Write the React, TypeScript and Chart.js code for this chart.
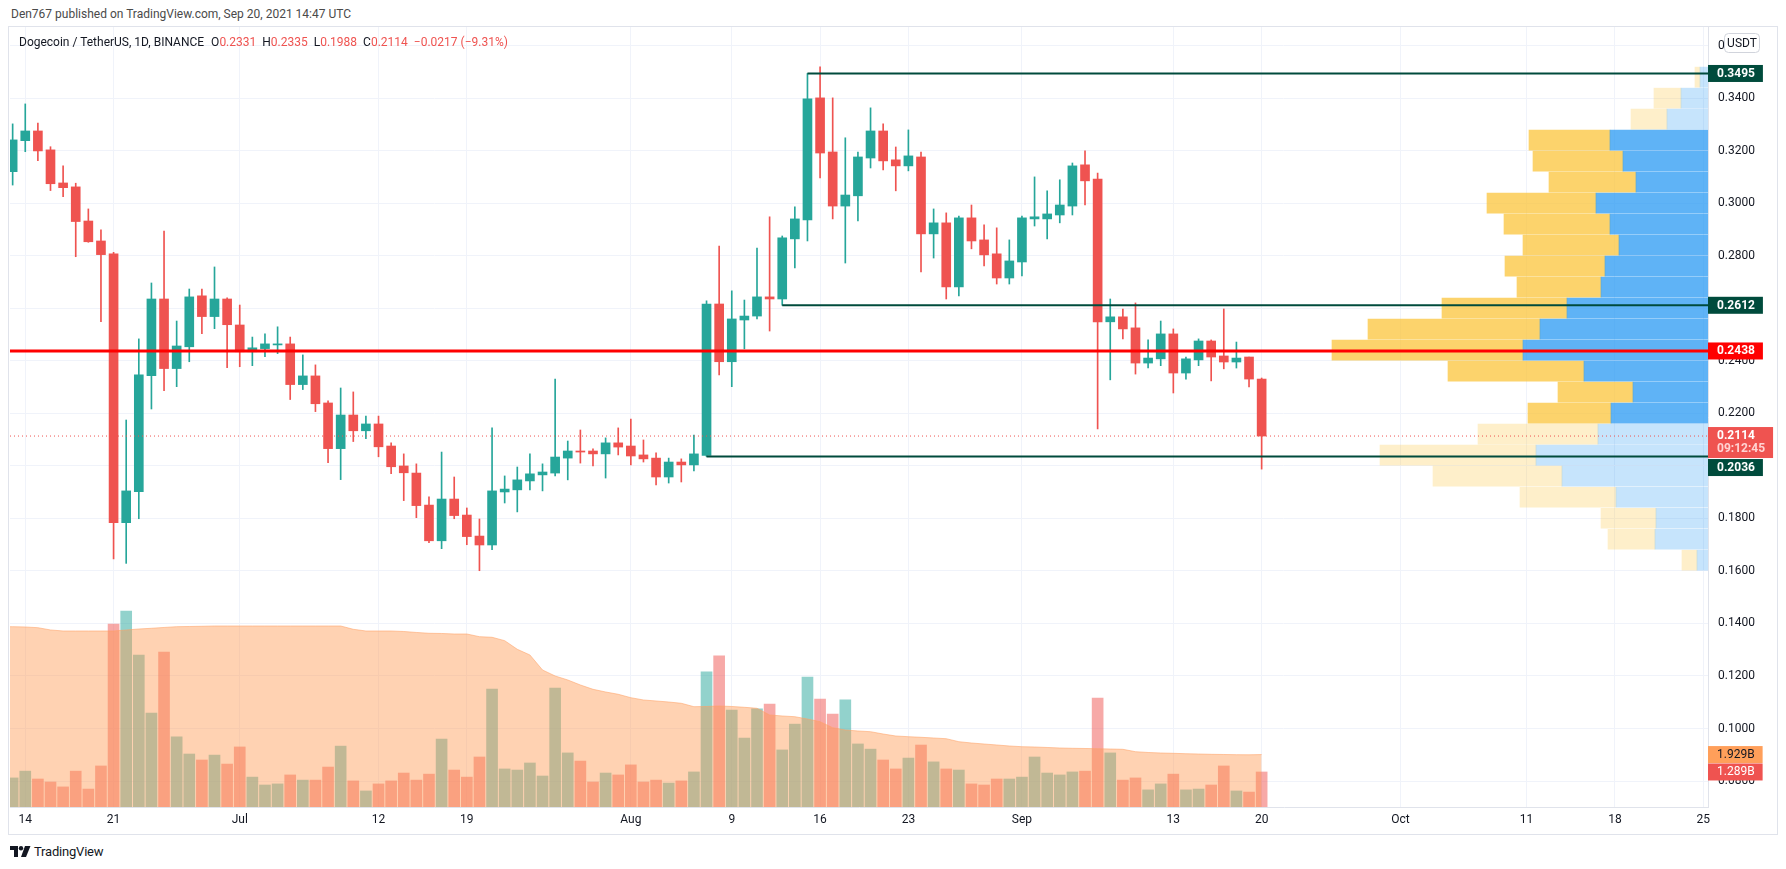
import React, { useEffect, useRef } from "react";
import { Chart, registerables } from "chart.js";

Chart.register(...registerables);

const FONT = "Roboto, 'Liberation Sans', Arial, sans-serif";

// ---------- categories ----------
const DATES = [
  "Jun 13","Jun 14","Jun 15","Jun 16","Jun 17","Jun 18","Jun 19","Jun 20","Jun 21","Jun 22",
  "Jun 23","Jun 24","Jun 25","Jun 26","Jun 27","Jun 28","Jun 29","Jun 30","Jul 1","Jul 2",
  "Jul 3","Jul 4","Jul 5","Jul 6","Jul 7","Jul 8","Jul 9","Jul 10","Jul 11","Jul 12",
  "Jul 13","Jul 14","Jul 15","Jul 16","Jul 17","Jul 18","Jul 19","Jul 20","Jul 21","Jul 22",
  "Jul 23","Jul 24","Jul 25","Jul 26","Jul 27","Jul 28","Jul 29","Jul 30","Jul 31","Aug 1",
  "Aug 2","Aug 3","Aug 4","Aug 5","Aug 6","Aug 7","Aug 8","Aug 9","Aug 10","Aug 11",
  "Aug 12","Aug 13","Aug 14","Aug 15","Aug 16","Aug 17","Aug 18","Aug 19","Aug 20","Aug 21",
  "Aug 22","Aug 23","Aug 24","Aug 25","Aug 26","Aug 27","Aug 28","Aug 29","Aug 30","Aug 31",
  "Sep 1","Sep 2","Sep 3","Sep 4","Sep 5","Sep 6","Sep 7","Sep 8","Sep 9","Sep 10",
  "Sep 11","Sep 12","Sep 13","Sep 14","Sep 15","Sep 16","Sep 17","Sep 18","Sep 19","Sep 20",
];

// ---------- OHLC (USDT) ----------
const OPEN = [
  0.3121,0.3239,0.3276,0.3204,0.3078,0.3063,0.2933,0.2857,0.2808,0.1784,
  0.1902,0.2344,0.2636,0.2371,0.2454,0.2648,0.2569,0.2636,0.2537,0.2435,
  0.2447,0.2461,0.2465,0.2310,0.2343,0.2240,0.2066,0.2194,0.2134,0.2160,
  0.2076,0.2000,0.1973,0.1851,0.1715,0.1874,0.1813,0.1733,0.1699,0.1901,
  0.1909,0.1943,0.1966,0.1973,0.2030,0.2057,0.2057,0.2046,0.2088,0.2076,
  0.2042,0.2030,0.1958,0.2015,0.2004,0.2040,0.2617,0.2397,0.2556,0.2571,
  0.2644,0.2636,0.2865,0.2937,0.3402,0.3196,0.2990,0.3029,0.3173,0.3276,
  0.3166,0.3143,0.3177,0.2884,0.2926,0.2682,0.2945,0.2861,0.2808,0.2716,
  0.2777,0.2941,0.2941,0.2956,0.2990,0.3147,0.3093,0.2549,0.2568,0.2526,
  0.2392,0.2408,0.2503,0.2354,0.2404,0.2476,0.2419,0.2396,0.2415,0.2331,
];
const HIGH = [
  0.3303,0.3379,0.3306,0.3216,0.3143,0.3077,0.2979,0.2899,0.2814,0.2175,
  0.2484,0.2697,0.2895,0.2552,0.2674,0.2674,0.2758,0.2640,0.2613,0.2491,
  0.2503,0.2530,0.2491,0.2423,0.2385,0.2248,0.2297,0.2282,0.2190,0.2190,
  0.2088,0.2046,0.2008,0.1882,0.2053,0.1958,0.1840,0.1798,0.2145,0.1962,
  0.1996,0.2046,0.2008,0.2331,0.2095,0.2137,0.2065,0.2107,0.2145,0.2179,
  0.2099,0.2050,0.2030,0.2027,0.2118,0.2629,0.2838,0.2667,0.2632,0.2830,
  0.2949,0.2876,0.2987,0.3495,0.3520,0.3402,0.3250,0.3196,0.3364,0.3303,
  0.3215,0.3280,0.3196,0.2979,0.2964,0.2952,0.2994,0.2918,0.2907,0.2861,
  0.2952,0.3101,0.3048,0.3090,0.3154,0.3200,0.3116,0.2636,0.2598,0.2621,
  0.2480,0.2552,0.2522,0.2415,0.2484,0.2480,0.2598,0.2472,0.2415,0.2335,
];
const LOW = [
  0.3070,0.3197,0.3163,0.3049,0.3026,0.2797,0.2852,0.2550,0.1646,0.1629,
  0.1799,0.2217,0.2287,0.2302,0.2397,0.2504,0.2523,0.2374,0.2378,0.2382,
  0.2416,0.2428,0.2253,0.2291,0.2207,0.2013,0.1948,0.2093,0.2104,0.2035,
  0.1971,0.1868,0.1803,0.1708,0.1685,0.1799,0.1700,0.1601,0.1681,0.1859,
  0.1825,0.1909,0.1905,0.1962,0.1947,0.2011,0.2000,0.1954,0.2042,0.2004,
  0.2015,0.1928,0.1935,0.1939,0.1981,0.2036,0.2347,0.2302,0.2446,0.2560,
  0.2514,0.2612,0.2754,0.2857,0.3097,0.2941,0.2773,0.2933,0.3135,0.3128,
  0.3048,0.3124,0.2739,0.2792,0.2636,0.2648,0.2827,0.2762,0.2693,0.2693,
  0.2724,0.2914,0.2865,0.2926,0.2956,0.2994,0.2141,0.2328,0.2484,0.2350,
  0.2373,0.2382,0.2278,0.2331,0.2382,0.2324,0.2370,0.2373,0.2301,0.1988,
];
const CLOSE = [
  0.3242,0.3276,0.3200,0.3075,0.3060,0.2931,0.2854,0.2805,0.1784,0.1905,
  0.2347,0.2636,0.2371,0.2457,0.2644,0.2569,0.2636,0.2538,0.2435,0.2450,
  0.2465,0.2465,0.2310,0.2343,0.2237,0.2066,0.2194,0.2134,0.2160,0.2073,
  0.1997,0.1974,0.1849,0.1715,0.1874,0.1811,0.1731,0.1699,0.1905,0.1912,
  0.1947,0.1970,0.1977,0.2034,0.2057,0.2053,0.2046,0.2088,0.2072,0.2038,
  0.2027,0.1958,0.2015,0.2004,0.2046,0.2617,0.2397,0.2560,0.2571,0.2644,
  0.2636,0.2869,0.2941,0.3398,0.3192,0.2990,0.3032,0.3177,0.3276,0.3162,
  0.3143,0.3181,0.2884,0.2926,0.2682,0.2945,0.2857,0.2804,0.2716,0.2781,
  0.2945,0.2949,0.2960,0.2994,0.3143,0.3086,0.2549,0.2568,0.2522,0.2392,
  0.2411,0.2503,0.2354,0.2408,0.2476,0.2415,0.2396,0.2411,0.2331,0.2114,
];

// ---------- volume (billions DOGE) ----------
const VOLUME = [
  1.07,1.32,1.03,0.92,0.74,1.32,0.66,1.51,
  6.73,7.21,5.59,3.46,5.70,2.58,1.95,1.73,1.91,1.58,
  2.21,1.10,0.81,0.85,1.18,0.99,0.99,1.47,2.24,0.96,
  0.59,0.85,0.96,1.25,0.99,1.21,2.50,1.36,1.10,1.84,
  4.34,1.40,1.36,1.62,1.14,4.38,1.99,1.69,0.92,1.25,1.18,
  1.55,0.92,0.99,0.88,0.96,1.29,4.97,5.56,3.57,2.54,
  3.61,3.79,2.10,3.05,4.78,3.97,3.42,3.94,2.32,2.13,
  1.73,1.40,1.80,2.28,1.66,1.40,1.36,0.85,0.81,1.03,1.03,
  1.10,1.84,1.25,1.18,1.29,1.32,4.01,1.99,0.99,1.07,
  0.63,0.85,1.21,0.63,0.66,0.81,1.51,0.59,0.55,1.289,
];
// volume moving average, starting one day before the first candle (Jun 12)
const VOLUME_MA_OFFSET = -1;
const VOLUME_MA = [
  6.635,6.635,6.624,6.598,6.514,6.477,6.477,6.477,6.477,6.477,
  6.514,6.550,6.576,6.606,6.635,6.642,6.650,6.661,6.661,
  6.661,6.661,6.661,6.661,6.661,6.661,6.661,6.661,6.661,
  6.539,6.477,6.477,6.477,6.458,6.422,6.392,6.385,6.366,6.366,
  6.267,6.245,6.120,5.803,5.594,5.042,4.821,4.674,4.490,4.331,4.232,4.147,
  4.022,3.938,3.901,3.864,3.816,3.691,3.698,3.717,3.698,3.669,
  3.632,3.386,3.349,3.323,3.238,3.139,2.918,2.834,2.797,2.771,
  2.686,2.613,2.587,2.565,2.539,2.513,2.403,2.355,2.318,2.282,2.245,
  2.219,2.208,2.190,2.171,2.160,2.153,2.145,2.134,2.123,2.035,
  2.006,1.987,1.976,1.961,1.950,1.939,1.932,1.925,1.921,1.929,
];

// ---------- visible range volume profile (bottom row first) ----------
const PROFILE_LOW = 0.1601;
const PROFILE_ROW = 0.008;
const PROFILE_UP = [0.55,2.65,2.60,4.60,7.30,8.60,5.50,4.85,3.75,6.20,9.25,8.40,7.05,5.35,5.15,4.45,4.90,5.60,3.60,4.25,4.90,2.05,1.35,0.40];
const PROFILE_DOWN = [0.75,2.35,2.75,4.80,6.45,7.80,6.00,4.15,3.75,6.80,9.55,8.60,6.25,4.20,5.00,4.80,5.30,5.45,4.35,4.50,4.05,1.80,1.35,0.25];
const VALUE_AREA_ROWS = [7, 20];

// ---------- drawn levels ----------
const LEVEL_PRICES = [0.3495, 0.2612, 0.2036];
const LEVEL_START = [63, 61, 55]; // candle index where each level begins
const RED_LEVEL = 0.2438;
const COUNTDOWN = "09:12:45";

// ---------- axes ----------
const PRICE_TICKS = [0.08,0.10,0.12,0.14,0.16,0.18,0.20,0.22,0.24,0.26,0.28,0.30,0.32,0.34,0.36];
const TIME_TICK_INDEX = [1, 8, 18, 29, 36, 49, 57, 64, 71, 80, 92, 99, 110, 120, 127, 134];
const TIME_TICK_LABELS = ["14","21","Jul","12","19","Aug","9","16","23","Sep","13","20","Oct","11","18","25"];
const X_MIN = -0.21;
const X_MAX = 134.38;
const Y_MIN = 0.0701;
const Y_MAX = 0.3672;
const VOL_AXIS_MAX = 28.7;
const PROFILE_AXIS_MAX = 84.9;

const TEAL = "#26A69A";
const RED = "#EF5350";
const LEVEL_GREEN = "#004B3C";

const noPadding = (s: any) => {
  s.paddingLeft = 0;
  s.paddingRight = 0;
  s.paddingTop = 0;
  s.paddingBottom = 0;
};

export default function App() {
  const ref = useRef<HTMLCanvasElement | null>(null);

  useEffect(() => {
    const canvas = ref.current;
    if (!canvas) return;
    const last = CLOSE.length - 1;
    const isUp = OPEN.map((o, i) => CLOSE[i] >= o);
    const candleColors = isUp.map((u) => (u ? TEAL : RED));
    const volColors = isUp.map((u) => (u ? "rgba(38,166,154,0.5)" : "rgba(239,83,80,0.5)"));
    const rowCenter = PROFILE_UP.map((_, r) => PROFILE_LOW + PROFILE_ROW * (r + 0.5));
    const inVA = (r: number) => r >= VALUE_AREA_ROWS[0] && r <= VALUE_AREA_ROWS[1];

    const tagPlugin = {
      id: "priceTags",
      afterDraw(chart: any) {
        const { ctx, chartArea, scales } = chart;
        const py = scales.y;
        const vy = scales.yVol;
        const x0 = chartArea.right;
        ctx.save();
        ctx.textBaseline = "middle";
        ctx.textAlign = "left";
        const box = (top: number, h: number, bg: string, lines: [string, string][], bold = true) => {
          ctx.font = `${bold ? "bold " : ""}12px ${FONT}`;
          const w = Math.max(...lines.map((l) => ctx.measureText(l[0]).width)) + 17;
          ctx.fillStyle = bg;
          ctx.fillRect(x0, top, w, h);
          lines.forEach(([t, c], k) => {
            ctx.fillStyle = c;
            ctx.fillText(t, x0 + 9, top + 9 + k * 13);
          });
          return top + h;
        };
        box(py.getPixelForValue(LEVEL_PRICES[0]) - 8.5, 17, LEVEL_GREEN, [[LEVEL_PRICES[0].toFixed(4), "#fff"]]);
        box(py.getPixelForValue(LEVEL_PRICES[1]) - 8.5, 17, LEVEL_GREEN, [[LEVEL_PRICES[1].toFixed(4), "#fff"]]);
        box(py.getPixelForValue(RED_LEVEL) - 8.5, 17, "#FF0000", [[RED_LEVEL.toFixed(4), "#fff"]]);
        const lastBottom = box(py.getPixelForValue(CLOSE[last]) - 9, 31, RED, [
          [CLOSE[last].toFixed(4), "#fff"],
          [COUNTDOWN, "#FFD3D2"],
        ]);
        box(Math.max(py.getPixelForValue(LEVEL_PRICES[2]) - 8.5, lastBottom + 1), 17, LEVEL_GREEN, [[LEVEL_PRICES[2].toFixed(4), "#fff"]]);
        const maBottom = box(vy.getPixelForValue(VOLUME_MA[VOLUME_MA.length - 1]) - 8.5, 17, "#FF9F5A", [
          [VOLUME_MA[VOLUME_MA.length - 1].toFixed(3) + "B", "#131722"],
        ], false);
        box(Math.max(vy.getPixelForValue(VOLUME[last]) - 8.5, maBottom), 17, RED, [[VOLUME[last].toFixed(3) + "B", "#fff"]], false);

        // currency badge
        const bx = x0 + 16, by = chartArea.top + 6, bw = 35, bh = 19;
        ctx.beginPath();
        ctx.roundRect(bx + 0.5, by + 0.5, bw, bh, 4);
        ctx.fillStyle = "#fff";
        ctx.fill();
        ctx.strokeStyle = "#D1D4DC";
        ctx.lineWidth = 1;
        ctx.stroke();
        ctx.font = `12px ${FONT}`;
        ctx.fillStyle = "#131722";
        ctx.textAlign = "center";
        ctx.fillText("USDT", bx + bw / 2 + 0.5, by + bh / 2 + 1);
        ctx.restore();
      },
    };

    const levelDatasets = LEVEL_PRICES.map((p, k) => ({
      type: "line",
      label: "level" + k,
      xAxisID: "x",
      yAxisID: "y",
      data: [{ x: LEVEL_START[k], y: p }, { x: X_MAX, y: p }],
      borderColor: LEVEL_GREEN,
      borderWidth: 2,
      pointRadius: 0,
      order: 1,
    }));

    const chart = new Chart(canvas, {
      type: "bar",
      data: {
        labels: DATES,
        datasets: [
          {
            type: "bar",
            label: "volume",
            xAxisID: "x",
            yAxisID: "yVol",
            data: VOLUME.map((v, i) => ({ x: i, y: v })),
            backgroundColor: volColors,
            barThickness: 11,
            grouped: false,
            order: 10,
          },
          {
            type: "line",
            label: "volume MA",
            xAxisID: "x",
            yAxisID: "yVol",
            data: VOLUME_MA.map((v, i) => ({ x: i + VOLUME_MA_OFFSET, y: v })),
            fill: "origin",
            backgroundColor: "rgba(255,152,80,0.44)",
            borderColor: "rgba(255,160,100,0.55)",
            borderWidth: 1,
            pointRadius: 0,
            tension: 0,
            order: 9,
          },
          {
            type: "bar",
            label: "profile up",
            indexAxis: "y",
            xAxisID: "xVP",
            yAxisID: "y",
            data: PROFILE_UP.map((v, r) => ({ x: [0, v], y: rowCenter[r] })),
            backgroundColor: PROFILE_UP.map((_, r) => (inVA(r) ? "rgba(33,150,243,0.72)" : "rgba(33,150,243,0.26)")),
            barThickness: 20,
            grouped: false,
            order: 8,
          },
          {
            type: "bar",
            label: "profile down",
            indexAxis: "y",
            xAxisID: "xVP",
            yAxisID: "y",
            data: PROFILE_DOWN.map((v, r) => ({ x: [PROFILE_UP[r], PROFILE_UP[r] + v], y: rowCenter[r] })),
            backgroundColor: PROFILE_DOWN.map((_, r) => (inVA(r) ? "rgba(251,192,45,0.7)" : "rgba(251,192,45,0.25)")),
            barThickness: 20,
            grouped: false,
            order: 8,
          },
          {
            type: "bar",
            label: "wicks",
            xAxisID: "x",
            yAxisID: "y",
            data: LOW.map((l, i) => ({ x: i, y: [l, HIGH[i]] })),
            backgroundColor: candleColors,
            barThickness: 1,
            grouped: false,
            order: 7,
          },
          {
            type: "bar",
            label: "bodies",
            xAxisID: "x",
            yAxisID: "y",
            data: OPEN.map((o, i) => ({ x: i, y: [o, CLOSE[i]] })),
            backgroundColor: candleColors,
            barThickness: 9,
            minBarLength: 1,
            grouped: false,
            order: 6,
          },
          {
            type: "line",
            label: "last price",
            xAxisID: "x",
            yAxisID: "y",
            data: [{ x: X_MIN, y: CLOSE[last] }, { x: X_MAX, y: CLOSE[last] }],
            borderColor: RED,
            borderWidth: 1,
            borderDash: [1, 3],
            pointRadius: 0,
            order: 5,
          },
          ...levelDatasets,
          {
            type: "line",
            label: "red level",
            xAxisID: "x",
            yAxisID: "y",
            data: [{ x: X_MIN, y: RED_LEVEL }, { x: X_MAX, y: RED_LEVEL }],
            borderColor: "#FF0000",
            borderWidth: 3,
            pointRadius: 0,
            order: 0,
          },
        ] as any,
      },
      options: {
        responsive: false,
        animation: false,
        events: [],
        layout: { padding: { left: 1, top: 0, right: 0, bottom: 0 } },
        plugins: { legend: { display: false }, tooltip: { enabled: false } },
        scales: {
          x: {
            type: "linear",
            axis: "x",
            position: "bottom",
            min: X_MIN,
            max: X_MAX,
            offset: false,
            afterFit: (s: any) => { s.height = 27; noPadding(s); },
            afterBuildTicks: (s: any) => { s.ticks = TIME_TICK_INDEX.map((v) => ({ value: v })); },
            ticks: {
              autoSkip: false,
              maxRotation: 0,
              padding: 6,
              color: "#131722",
              font: { family: FONT, size: 12 },
              callback: (_v: any, i: number) => TIME_TICK_LABELS[i],
            },
            grid: { color: "#F0F3FA", drawTicks: false, offset: false },
            border: { color: "#E0E3EB" },
          },
          y: {
            type: "linear",
            axis: "y",
            position: "right",
            min: Y_MIN,
            max: Y_MAX,
            offset: false,
            afterFit: (s: any) => { s.width = 69; noPadding(s); },
            afterBuildTicks: (s: any) => { s.ticks = PRICE_TICKS.map((v) => ({ value: v })); },
            ticks: {
              padding: 10,
              color: "#131722",
              font: { family: FONT, size: 12 },
              callback: (v: any) => Number(v).toFixed(4),
            },
            grid: { color: "#F0F3FA", drawTicks: false, offset: false },
            border: { color: "#E0E3EB" },
          },
          yVol: { type: "linear", axis: "y", display: false, offset: false, min: 0, max: VOL_AXIS_MAX, afterFit: noPadding },
          xVP: { type: "linear", axis: "x", display: false, offset: false, min: 0, max: PROFILE_AXIS_MAX, reverse: true, afterFit: noPadding },
        },
      } as any,
      plugins: [tagPlugin],
    });
    return () => chart.destroy();
  }, []);

  const last = CLOSE.length - 1;
  const change = CLOSE[last] - CLOSE[last - 1];
  const pct = (change / CLOSE[last - 1]) * 100;
  const fmtSigned = (v: number, d: number) => (v < 0 ? "\u2212" : "+") + Math.abs(v).toFixed(d);
  const valColor = change < 0 ? RED : TEAL;

  return (
    <div style={{ position: "fixed", left: 0, top: 0, width: 1786, height: 869, background: "#fff", fontFamily: FONT, overflow: "hidden" }}>
      <div style={{ position: "absolute", left: 11, top: 7, fontSize: 12, lineHeight: "15px", color: "#4A4A4A", whiteSpace: "nowrap" }}>
        Den767 published on TradingView.com, Sep 20, 2021 14:47 UTC
      </div>
      <div style={{ position: "absolute", left: 8, top: 26, width: 1768, height: 807, border: "1px solid #E0E3EB" }}>
        <canvas ref={ref} width={1768} height={807} style={{ display: "block", width: 1768, height: 807 }} />
        <div style={{ position: "absolute", left: 10, top: 8, fontSize: 12, lineHeight: "15px", color: "#131722", whiteSpace: "nowrap" }}>
          <span>Dogecoin / TetherUS, 1D, BINANCE</span>
          <span style={{ marginLeft: 7 }}>O</span><span style={{ color: valColor }}>{OPEN[last].toFixed(4)}</span>
          <span style={{ marginLeft: 6 }}>H</span><span style={{ color: valColor }}>{HIGH[last].toFixed(4)}</span>
          <span style={{ marginLeft: 6 }}>L</span><span style={{ color: valColor }}>{LOW[last].toFixed(4)}</span>
          <span style={{ marginLeft: 6 }}>C</span><span style={{ color: valColor }}>{CLOSE[last].toFixed(4)}</span>
          <span style={{ marginLeft: 6, color: valColor }}>{fmtSigned(change, 4)} ({fmtSigned(pct, 2)}%)</span>
        </div>
      </div>
      <div style={{ position: "absolute", left: 10, top: 843, display: "flex", alignItems: "center", height: 16 }}>
        <svg width="21" height="13" viewBox="0 0 21 13" style={{ display: "block" }}>
          <path d="M0 1h8v11h-4v-7h-4z" fill="#131722" />
          <circle cx="11" cy="3.2" r="2.2" fill="#131722" />
          <path d="M15 1h5.5l-4.5 11h-5z" fill="#131722" />
        </svg>
        <span style={{ marginLeft: 3, fontSize: 13, color: "#131722", letterSpacing: "-0.2px" }}>TradingView</span>
      </div>
    </div>
  );
}
